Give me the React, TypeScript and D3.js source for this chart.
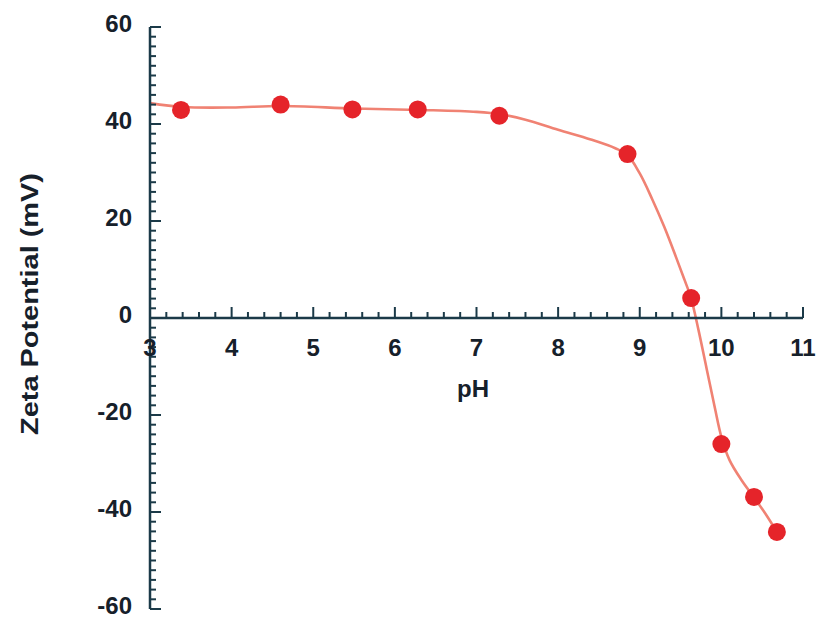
import React from "react";
import * as d3 from "d3";

const pH = [3.38, 4.6, 5.48, 6.28, 7.28, 8.85, 9.63, 10.0, 10.4, 10.68];
const zeta = [42.9, 44.0, 43.0, 43.0, 41.7, 33.8, 4.1, -26.0, -36.9, -44.1];

const fitPH = [3.0, 3.4, 4.0, 4.6, 5.5, 6.3, 7.0, 7.3, 7.6, 8.0, 8.4, 8.7, 8.85, 9.0, 9.15, 9.3, 9.45, 9.55, 9.63, 9.72, 9.82, 9.92, 10.0, 10.1, 10.25, 10.4, 10.55, 10.68];
const fitZeta = [44.3, 43.5, 43.4, 43.7, 43.2, 42.9, 42.5, 42.0, 40.9, 38.8, 36.8, 35.0, 33.6, 29.8, 24.6, 18.8, 12.3, 7.8, 4.0, -2.5, -10.5, -18.5, -24.5, -29.3, -33.5, -37.0, -40.6, -44.1];

const xTicks = [3, 4, 5, 6, 7, 8, 9, 10, 11];
const yTicks = [60, 40, 20, 0, -20, -40, -60];

const AXIS = "#1b3a48";
const TEXT = "#16202a";

export default function App() {
  const W = 816, H = 619;
  const x = d3.scaleLinear().domain([3, 11]).range([150, 803]);
  const y = d3.scaleLinear().domain([-60, 60]).range([609, 27]);
  const line = d3
    .line<number>()
    .x((_, i) => x(fitPH[i]))
    .y((d) => y(d))
    .curve(d3.curveCatmullRom.alpha(0.5));

  const xMinor = d3.range(3, 11.001, 0.2).map((v) => +v.toFixed(1));
  const yMinor = d3.range(-60, 60.001, 2);
  const font = "'Liberation Sans', Arial, sans-serif";

  return (
    <svg width={W} height={H} style={{ position: "absolute", left: 0, top: 0, background: "#fff" }}>
      <path d={line(fitZeta) || ""} fill="none" stroke="#f08273" strokeWidth={2.6} />
      {pH.map((p, i) => (
        <circle key={i} cx={x(p)} cy={y(zeta[i])} r={9} fill="#e5242a" />
      ))}
      <line x1={x(3)} x2={x(3)} y1={y(60)} y2={y(-60)} stroke={AXIS} strokeWidth={2.5} />
      {yMinor.map((v) => {
        const major = Math.abs(v % 20) < 1e-6;
        return (
          <line key={"ym" + v} x1={x(3)} x2={x(3) + (major ? 11 : 6)} y1={y(v)} y2={y(v)} stroke={AXIS} strokeWidth={2} />
        );
      })}
      <line x1={x(3)} x2={x(11)} y1={y(0)} y2={y(0)} stroke={AXIS} strokeWidth={2.5} />
      {xMinor.map((v) => {
        const major = Math.abs(v - Math.round(v)) < 1e-6;
        return (
          <line key={"xm" + v} x1={x(v)} x2={x(v)} y1={y(0)} y2={y(0) - (major ? 11 : 6)} stroke={AXIS} strokeWidth={2} />
        );
      })}
      {xTicks.map((v) => (
        <text key={"xl" + v} x={x(v)} y={y(0) + 38} textAnchor="middle" fontFamily={font} fontWeight="bold" fontSize={24} fill={TEXT}>
          {v}
        </text>
      ))}
      {yTicks.map((v) => (
        <text key={"yl" + v} x={132} y={y(v) + 5} textAnchor="end" fontFamily={font} fontWeight="bold" fontSize={24} fill={TEXT}>
          {v}
        </text>
      ))}
      <text x={473} y={397} textAnchor="middle" fontFamily={font} fontWeight="bold" fontSize={24} fill={TEXT}>
        pH
      </text>
      <text
        transform={`translate(38, 304) rotate(-90)`}
        textAnchor="middle"
        fontFamily={font}
        fontWeight="bold"
        fontSize={23}
        textLength={262}
        lengthAdjust="spacingAndGlyphs"
        fill={TEXT}
      >
        Zeta Potential (mV)
      </text>
    </svg>
  );
}
